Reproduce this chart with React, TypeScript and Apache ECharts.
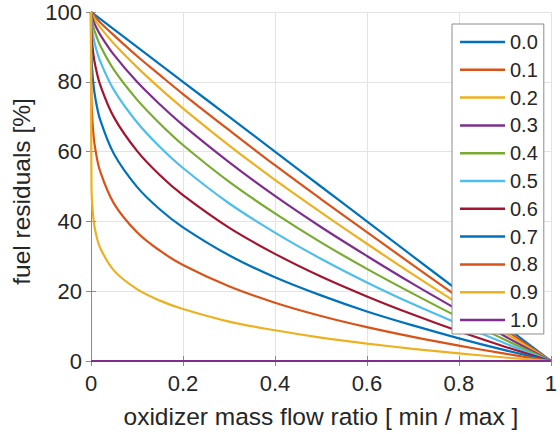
import React, { useEffect, useRef } from "react";
import * as echarts from "echarts";

// Sample positions along the oxidizer mass flow ratio axis
const ratio = [0, 0.001, 0.005, 0.01, 0.02, 0.05, 0.1, 0.15, 0.2, 0.3, 0.4, 0.5, 0.6, 0.7, 0.8, 0.9, 1];

// Fuel residuals [%] per curve parameter
const curveNames = ["0.0", "0.1", "0.2", "0.3", "0.4", "0.5", "0.6", "0.7", "0.8", "0.9", "1.0"];
const res00 = [100, 99.9, 99.5, 99, 98, 95, 90, 85, 80, 70, 60, 50, 40, 30, 20, 10, 0];
const res01 = [100, 99.8, 99.2, 98.4, 97.0, 93.3, 87.4, 81.9, 76.5, 66.2, 56.1, 46.4, 36.9, 27.5, 18.2, 9.0, 0];
const res02 = [100, 99.6, 98.6, 97.5, 95.6, 90.9, 84.2, 78.1, 72.4, 61.8, 51.9, 42.6, 33.6, 24.8, 16.3, 8.1, 0];
const res03 = [100, 99.2, 97.5, 96.0, 93.5, 87.7, 80.0, 73.5, 67.6, 57.0, 47.3, 38.4, 30.1, 22.1, 14.5, 7.1, 0];
const res04 = [100, 98.4, 95.8, 93.7, 90.4, 83.4, 74.9, 68.0, 61.9, 51.4, 42.3, 34.0, 26.4, 19.3, 12.5, 6.1, 0];
const res05 = [100, 96.8, 92.9, 90.0, 85.9, 77.6, 68.4, 61.3, 55.3, 45.2, 36.8, 29.3, 22.5, 16.3, 10.6, 5.1, 0];
const res06 = [100, 93.7, 88.0, 84.2, 79.1, 69.8, 60.2, 53.2, 47.5, 38.2, 30.7, 24.2, 18.5, 13.3, 8.5, 4.1, 0];
const res07 = [100, 87.4, 79.6, 74.9, 69.1, 59.3, 49.9, 43.4, 38.3, 30.3, 24.0, 18.8, 14.2, 10.2, 6.5, 3.1, 0];
const res08 = [100, 74.9, 65.3, 60.2, 54.3, 45.1, 36.9, 31.6, 27.5, 21.4, 16.7, 12.9, 9.7, 6.9, 4.4, 2.1, 0];
const res09 = [100, 49.9, 41.1, 36.9, 32.4, 25.9, 20.6, 17.3, 14.9, 11.3, 8.8, 6.7, 5.0, 3.5, 2.2, 1.0, 0];
const res10 = [0, 0, 0, 0, 0, 0, 0, 0, 0, 0, 0, 0, 0, 0, 0, 0, 0];
const residuals = [res00, res01, res02, res03, res04, res05, res06, res07, res08, res09, res10];

const palette = ["#0072BD", "#D95319", "#EDB120", "#7E2F8E", "#77AC30", "#4DBEEE", "#A2142F"];

const FONT = "'Liberation Sans', Arial, Helvetica, sans-serif";
const AXIS_GRAY = "#8a8a8a";
const TEXT = "#262626";

export default function App() {
  const ref = useRef<HTMLDivElement>(null);

  useEffect(() => {
    if (!ref.current) return;
    const chart = echarts.init(ref.current, null, { renderer: "svg" });

    const series = curveNames.map((name, i) => ({
      name,
      type: "line",
      data: ratio.map((x, j) => [x, residuals[i][j]]),
      symbol: "none",
      smooth: 0.35,
      lineStyle: { width: 2.2, color: palette[i % palette.length] },
      itemStyle: { color: palette[i % palette.length] },
      color: palette[i % palette.length],
      xAxisIndex: 0,
      yAxisIndex: 0,
    }));

    const boxAxis = {
      axisLine: { show: true, lineStyle: { color: AXIS_GRAY, width: 1 } },
      axisTick: { show: true, inside: true, length: 5, lineStyle: { color: AXIS_GRAY } },
      axisLabel: { show: false },
      splitLine: { show: false },
    };

    chart.setOption({
      animation: false,
      textStyle: { fontFamily: FONT },
      grid: { left: 91, right: 4, top: 12, bottom: 73 },
      xAxis: [
        {
          type: "value",
          min: 0,
          max: 1,
          interval: 0.2,
          name: "oxidizer mass flow ratio [ min / max ]",
          nameLocation: "middle",
          nameGap: 43,
          nameTextStyle: { fontSize: 24.5, color: TEXT, fontFamily: FONT },
          axisLine: { show: true, lineStyle: { color: AXIS_GRAY, width: 1 } },
          axisTick: { show: true, inside: true, length: 5, lineStyle: { color: AXIS_GRAY } },
          axisLabel: { fontSize: 22, color: TEXT, margin: 11, fontFamily: FONT },
          splitLine: { show: true, lineStyle: { color: "#e3e3e3", width: 1 } },
        },
        { type: "value", min: 0, max: 1, interval: 0.2, position: "top", ...boxAxis },
      ],
      yAxis: [
        {
          type: "value",
          min: 0,
          max: 100,
          interval: 20,
          name: "fuel residuals [%]",
          nameLocation: "middle",
          nameGap: 50,
          nameTextStyle: { fontSize: 24.5, color: TEXT, fontFamily: FONT, padding: [0, 10, 0, 0] },
          axisLine: { show: true, lineStyle: { color: AXIS_GRAY, width: 1 } },
          axisTick: { show: true, inside: true, length: 5, lineStyle: { color: AXIS_GRAY } },
          axisLabel: { fontSize: 22, color: TEXT, margin: 9, fontFamily: FONT },
          splitLine: { show: true, lineStyle: { color: "#e3e3e3", width: 1 } },
        },
        { type: "value", min: 0, max: 100, interval: 20, position: "right", ...boxAxis },
      ],
      legend: {
        orient: "vertical",
        left: 452,
        top: 24,
        padding: [8, 6, 4, 8],
        icon: "rect",
        itemWidth: 45,
        itemHeight: 2.5,
        itemGap: 7.8,
        backgroundColor: "#ffffff",
        borderColor: "#8c8c8c",
        borderWidth: 1,
        borderRadius: 0,
        textStyle: { fontSize: 20, color: TEXT, fontFamily: FONT, lineHeight: 20 },
        data: curveNames,
      },
      series,
    });

    return () => chart.dispose();
  }, []);

  return (
    <div
      ref={ref}
      style={{ position: "fixed", left: 0, top: 0, width: 560, height: 434, background: "#fff" }}
    />
  );
}
